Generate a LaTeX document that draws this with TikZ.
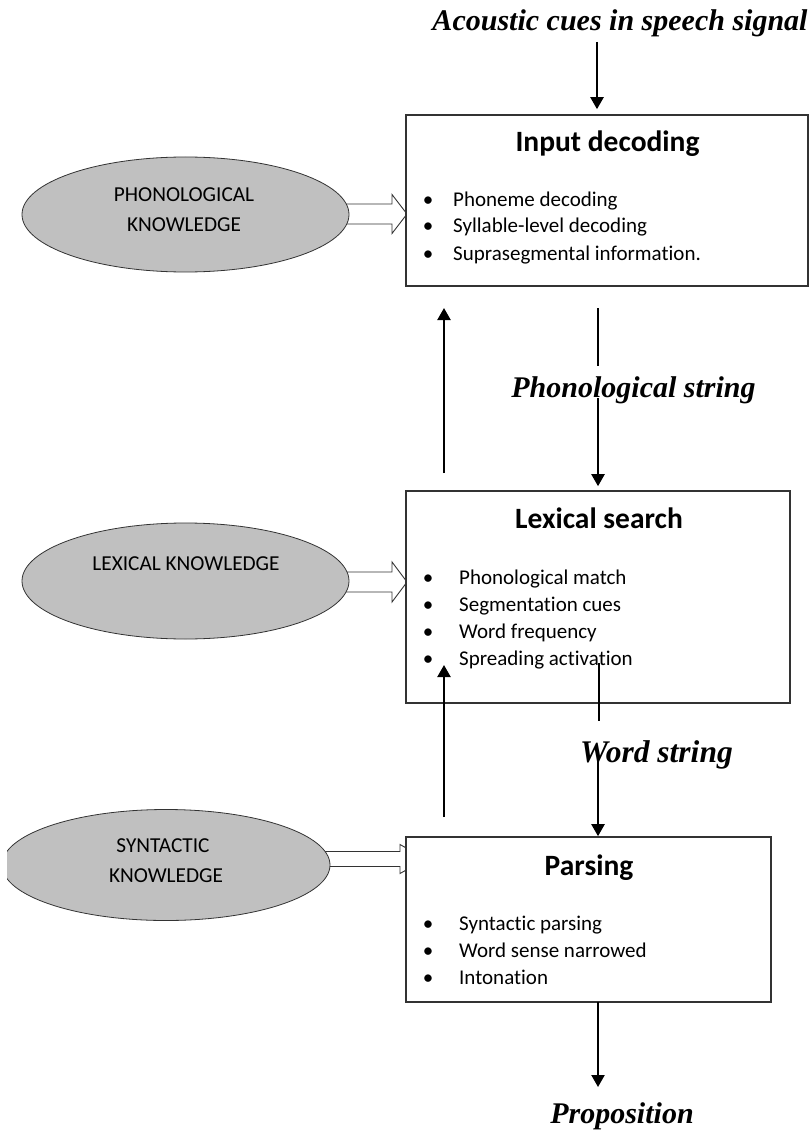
\documentclass[tikz,border=0pt]{standalone}
\usepackage{fontspec}
\setmainfont{Carlito}[Ligatures=NoCommon]
\newfontfamily\labfont{Liberation Serif}
\usetikzlibrary{arrows.meta,calc,shapes.geometric}
\definecolor{ellgray}{HTML}{C0C0C0}
\definecolor{edge}{HTML}{333333}
\begin{document}
\begin{tikzpicture}[x=1pt,y=-1pt,
  stagebox/.style={draw=edge, line width=1.6pt, fill=white, inner sep=0pt},
  knowell/.style={ellipse, draw=edge, line width=0.8pt, fill=ellgray, inner sep=0pt},
  hollow/.style={draw=edge, line width=0.9pt, fill=white, line join=miter},
  arr/.style={line width=2.2pt, -{Triangle[length=12pt,width=13pt]}},
  plain/.style={line width=2.2pt},
  ttl/.style={inner sep=0pt, anchor=base, font=\fontsize{29.5}{30}\selectfont\bfseries},
  itm/.style={inner sep=0pt, anchor=base west, font=\fontsize{21}{22}\selectfont},
  bul/.style={inner sep=0pt, anchor=base, font=\fontsize{21}{22}\selectfont},
  etxt/.style={inner sep=0pt, anchor=base, font=\fontsize{21.3}{22}\selectfont},
  lab/.style={inner sep=0pt, anchor=base, font=\labfont\fontsize{30}{32}\selectfont\bfseries\itshape}
]
\useasboundingbox (0,0) rectangle (811,1131);

% ---------- italic labels ----------
\node[lab] (acoustic) at (620,31) {Acoustic cues in speech signal};
\node[lab] (phonstr) at (633.5,397) {Phonological string};
\node[lab, font=\labfont\fontsize{31.5}{32}\selectfont\bfseries\itshape] (wordstr) at (656.5,762) {Word string};
\node[lab] (prop) at (622,1123) {Proposition};

% ---------- hollow arrows (drawn first, ellipses cover the tails) ----------
\coordinate (h1) at (407,214);
\coordinate (h2) at (407,582);
\coordinate (h3) at (426,859);
\draw[hollow] (h1) -- ++(-15,19.5) -- ++(0,-9.5) -- ++(-80,0) -- ++(0,-20) -- ++(80,0) -- ++(0,-9.5) -- cycle;
\draw[hollow] (h2) -- ++(-15,20) -- ++(0,-10) -- ++(-80,0) -- ++(0,-20) -- ++(80,0) -- ++(0,-10) -- cycle;
\draw[hollow] (h3) -- ++(-26,14.5) -- ++(0,-7) -- ++(-90,0) -- ++(0,-15) -- ++(90,0) -- ++(0,-7) -- cycle;

% ---------- knowledge ellipses ----------
\node[knowell, minimum width=327pt, minimum height=115pt] (e1) at (185.5,214.5) {};
\node[etxt] (e1a) at (184,202) {PHONOLOGICAL};
\node[etxt] (e1b) at (184,232) {KNOWLEDGE};

\node[knowell, minimum width=327pt, minimum height=116pt] (e2) at (185.5,581) {};
\node[etxt] (e2a) at (186,570) {LEXICAL KNOWLEDGE};

\begin{scope}
\clip (7,700) rectangle (400,1000);
\node[knowell, minimum width=328pt, minimum height=111pt] (e3) at (166,865) {};
\end{scope}
\node[etxt] (e3a) at (163,852) {SYNTACTIC};
\node[etxt] (e3b) at (166,882) {KNOWLEDGE};

% ---------- stage boxes ----------
\node[stagebox, minimum width=402pt, minimum height=171pt] (b1) at (607,200.5) {};
\node[ttl] (t1) at (607.5,152) {Input decoding};
\node[bul] (b1d1) at (428,207) {•};
\node[bul] (b1d2) at (428,233) {•};
\node[bul] (b1d3) at (428,261) {•};
\node[itm] (b1i1) at (453,207) {Phoneme decoding};
\node[itm] (b1i2) at (453,233) {Syllable-level decoding};
\node[itm] (b1i3) at (453,261) {Suprasegmental information.};

\node[stagebox, minimum width=384pt, minimum height=212pt] (b2) at (598,597) {};
\node[ttl] (t2) at (599,528) {Lexical search};
\node[bul] (b2d1) at (428,584) {•};
\node[bul] (b2d2) at (428,611) {•};
\node[bul] (b2d3) at (428,638) {•};
\node[bul] (b2d4) at (428,665) {•};
\node[itm] (b2i1) at (459,584) {Phonological match};
\node[itm] (b2i2) at (459,611) {Segmentation cues};
\node[itm] (b2i3) at (459,638) {Word frequency};
\node[itm] (b2i4) at (459,665) {Spreading activation};

\node[stagebox, minimum width=365pt, minimum height=165pt] (b3) at (588.5,919.5) {};
\node[ttl] (t3) at (589,875) {Parsing};
\node[bul] (b3d1) at (428,930) {•};
\node[bul] (b3d2) at (428,957) {•};
\node[bul] (b3d3) at (428,984) {•};
\node[itm] (b3i1) at (459,930) {Syntactic parsing};
\node[itm] (b3i2) at (459,957) {Word sense narrowed};
\node[itm] (b3i3) at (459,984) {Intonation};

% ---------- connectors ----------
\coordinate (a1s) at (597,42);
\draw[arr, shorten >=5pt] (a1s) -- (a1s |- b1.north);

\coordinate (l1s) at (598,308);
\coordinate (l1e) at (598,366);
\draw[plain] (l1s) -- (l1e);
\coordinate (a2s) at (598,398);
\draw[arr, shorten >=4pt] (a2s) -- (a2s |- b2.north);

\coordinate (u1s) at (444,473);
\coordinate (u1e) at (444,308);
\draw[arr] (u1s) -- (u1e);

\coordinate (l2s) at (599,663);
\coordinate (l2e) at (599,721);
\draw[plain] (l2s) -- (l2e);
\coordinate (a3s) at (598,755);
\draw[arr] (a3s) -- (a3s |- b3.north);

\coordinate (u2s) at (444,817);
\coordinate (u2e) at (444,665);
\draw[arr] (u2s) -- (u2e);

\coordinate (a4s) at (598,1002);
\coordinate (a4e) at (598,1087);
\draw[arr] (a4s) -- (a4e);
\end{tikzpicture}
\end{document}
